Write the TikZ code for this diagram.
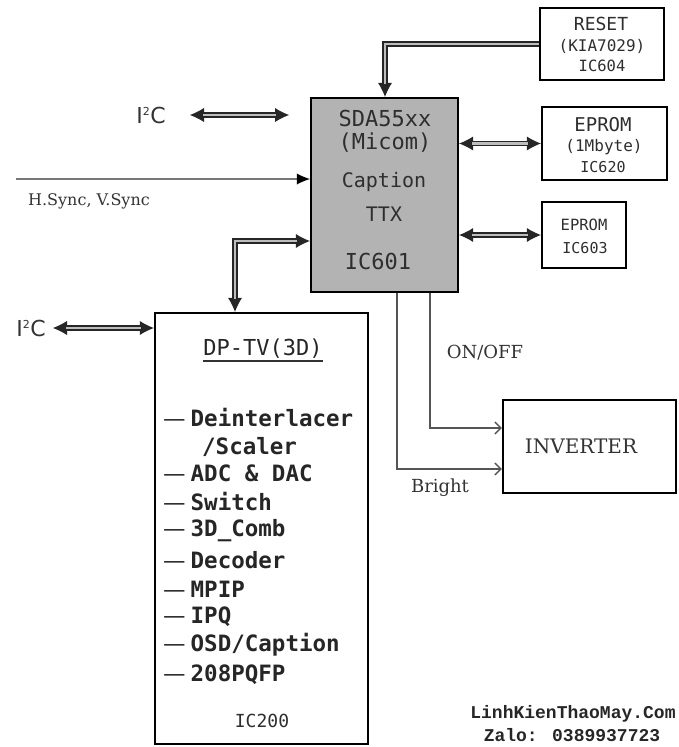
\documentclass[tikz,border=0pt]{standalone}
\usepackage{fontspec}
\setmainfont{DejaVu Serif}
\newfontfamily\monof{DejaVu Sans Mono}
\newfontfamily\sansf{DejaVu Sans}
\newfontfamily\wmf{Liberation Mono}
\usetikzlibrary{arrows.meta,calc}
\definecolor{boxgray}{HTML}{B3B3B3}
\definecolor{txtgray}{HTML}{2E2E2E}
\definecolor{linegray}{HTML}{555555}
\definecolor{dblgray}{HTML}{BDBDBD}
\newcommand{\fs}[1]{\fontsize{#1}{#1}\selectfont}
\tikzset{
  box/.style={draw=black, line width=2.4pt, inner sep=0pt},
  txt/.style={inner sep=0pt, text=txtgray},
  mtxt/.style={txt, font=\monof\fs{#1}},
  mbtxt/.style={txt, text=black!85, anchor=west, font=\monof\bfseries\fs{#1}},
  stxt/.style={txt, text=black!80, font=\fs{#1}},
  tipA/.tip={Latex[length=14pt,width=14pt,line width=0pt]},
  dbl/.style={draw=dblgray, line width=2.6pt, shorten >=13pt, shorten <=13pt,
    preaction={draw=black!85, line width=5.6pt, shorten >=0pt, shorten <=0pt,
      arrows={tipA-tipA}}},
  dblend/.style={draw=dblgray, line width=2.6pt, shorten >=13pt,
    preaction={draw=black!85, line width=5.6pt, shorten >=0pt,
      arrows={-tipA}}},
  sig/.style={draw=linegray, line width=1.3pt, -{Straight Barb[length=6pt,width=12pt]}},
}
\begin{document}
\begin{tikzpicture}[x=1pt,y=-1pt]
\useasboundingbox (0,0) rectangle (678,747);
% boxes
\node[box, fill=boxgray, minimum width=147pt, minimum height=194pt] (sda) at (384.5,195) {};
\node[box, minimum width=124pt, minimum height=72pt] (reset) at (602,44) {};
\node[box, minimum width=125pt, minimum height=73pt] (eprom1) at (604.5,143.5) {};
\node[box, minimum width=84pt, minimum height=66pt] (eprom2) at (584,235) {};
\node[box, minimum width=213pt, minimum height=431pt] (dptv) at (261.5,528.5) {};
\node[box, minimum width=173pt, minimum height=93pt] (inv) at (589.5,446.5) {};
% SDA texts
\node[mtxt=22] (s1) at (385,118) {SDA55xx};
\node[mtxt=22] (s2) at (385,143) {(Micom)};
\node[mtxt=20] (s3) at (384,182) {Caption};
\node[mtxt=20] (s4) at (384,214) {TTX};
\node[mtxt=22] (s5) at (378,261) {IC601};
% RESET texts
\node[mtxt=18] (r1) at (601,24) {RESET};
\node[mtxt=16] (r2) at (602,46) {(KIA7029)};
\node[mtxt=15.5] (r3) at (602,66) {IC604};
% EPROM1
\node[mtxt=19] (e1) at (603,125) {EPROM};
\node[mtxt=16] (e2) at (604,147) {(1Mbyte)};
\node[mtxt=15] (e3) at (603,167) {IC620};
% EPROM2
\node[mtxt=15.5] (f1) at (584,225) {EPROM};
\node[mtxt=15] (f2) at (585,248) {IC603};
% DP-TV texts
\node[mtxt=22, text=black!85] (d0) at (263,349) {DP-TV(3D)};
\draw[line width=1.2pt, black!80] ([yshift=-5pt]d0.base west) -- ([yshift=-5pt]d0.base east);
\foreach \n/\y/\t in {d1/418/Deinterlacer, d3/473/{ADC \& DAC}, d4/502/Switch, d5/531/3D\_Comb,
  d6/560/Decoder, d7/589/MPIP, d8/617/IPQ, d9/645/{OSD/Caption}, d10/675/208PQFP}{
  \node[mbtxt=22.5] (\n) at (163,\y) {{\sansf\mdseries—}\hspace{5pt}\t};
}
\node[mbtxt=22.5] (d2) at (202,447) {/Scaler};
\node[mtxt=18] (d11) at (262,721) {IC200};
% INVERTER
\node[stxt=20] (i1) at (581,446) {INVERTER};
% left labels
\node[txt, text=black!80, font=\sansf\fs{22}] (i2ca) at (151,115) {I\textsuperscript{\fs{11}2}C};
\node[txt, text=black!80, font=\sansf\fs{22}] (i2cb) at (31,328) {I\textsuperscript{\fs{11}2}C};
\node[stxt=16, anchor=west] (hs) at (28,201) {H.Sync, V.Sync};
\node[stxt=18] (onoff) at (485,353) {ON/OFF};
\node[stxt=18] (bright) at (440,488) {Bright};
% watermark
\node[inner sep=0pt, font=\wmf\bfseries\fs{18}, text=black!85] (w1) at (573,714) {LinhKienThaoMay.Com};
\node[inner sep=0pt, font=\wmf\bfseries\fs{18}, text=black!85] (w2) at (572,735) {Zalo: 0389937723};
% coordinates
\coordinate (ia1) at (190,115);
\coordinate (ia2) at (289,115);
\coordinate (ib1) at (53,328);
\coordinate (hs0) at (16,179);
\coordinate (rk) at (385,0);
\coordinate (kx) at (235,0);
\coordinate (ky) at (0,241);
\coordinate (onx) at (430,0);
\coordinate (ony) at (0,428);
\coordinate (brx) at (397,0);
\coordinate (bry) at (0,469);
% connectors
\draw[dbl] (ia1) -- (ia2);
\draw[dbl] (ib1) -- (dptv.west |- ib1);
\draw[draw=linegray!80, line width=2pt, -{Latex[length=13pt,width=11pt,line width=0pt,fill=black]}] (hs0) -- (sda.west |- hs0);
\draw[dblend] (reset.west) -| (sda.north -| rk);
\draw[dbl] (sda.east |- eprom1) -- (eprom1.west);
\draw[dbl] (sda.east |- eprom2) -- (eprom2.west);
\draw[dbl] (dptv.north -| kx) |- (sda.west |- ky);
\draw[sig] (sda.south -| onx) |- (inv.west |- ony);
\draw[sig] (sda.south -| brx) |- (inv.west |- bry);
\end{tikzpicture}
\end{document}
